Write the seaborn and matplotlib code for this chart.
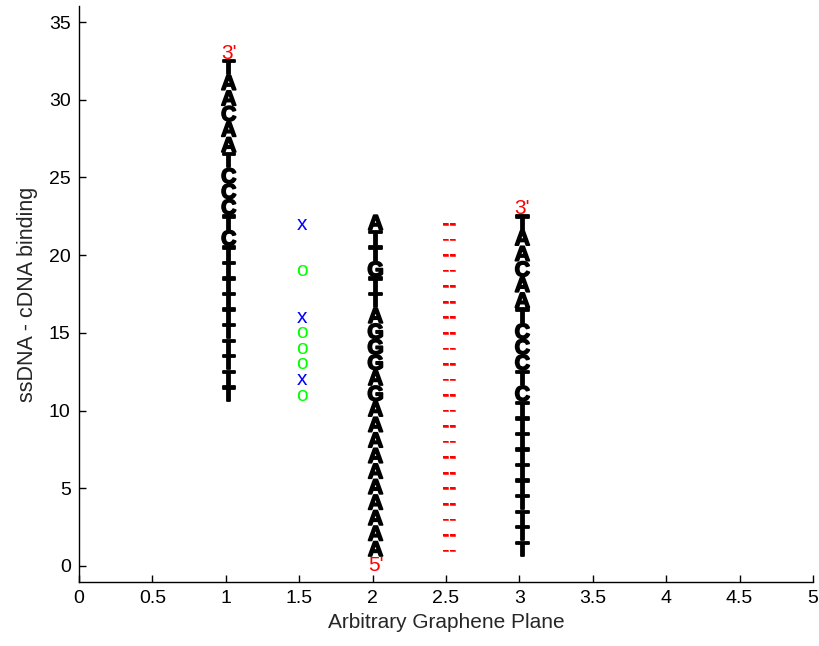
import matplotlib
matplotlib.use("Agg")
import matplotlib.pyplot as plt
import matplotlib.patheffects as pe
import seaborn as sns
from matplotlib.ticker import FormatStrFormatter
from matplotlib.transforms import offset_copy

# strand 1: probe hybridised high on the plane (top -> bottom)
probe_bases = list("TAACAATCCCTCTTTTTTTTTT")
probe_y = [32, 31, 30, 29, 28, 27, 26, 25, 24, 23, 22,
           21, 20, 19, 18, 17, 16, 15, 14, 13, 12, 11]

# strand 2: target (top -> bottom, 5' end at the bottom)
target_bases = list("ATTGTTAGGGAGAAAAAAAAAA")
target_y = [22, 21, 20, 19, 18, 17, 16, 15, 14, 13, 12,
            11, 10, 9, 8, 7, 6, 5, 4, 3, 2, 1]

# strand 3: probe paired with the target
paired_bases = list("TAACAATCCCTCTTTTTTTTTT")
paired_y = [22, 21, 20, 19, 18, 17, 16, 15, 14, 13, 12,
            11, 10, 9, 8, 7, 6, 5, 4, 3, 2, 1]

strand_x = [1, 2, 3]

# strand end labels
end_text = ["3'", "5'", "3'"]
end_x = [1, 2, 3]
end_y = [33, 0, 23]

# hydrogen bonds between strands 2 and 3
bond_x = 2.5
bond_y = [22, 21, 20, 19, 18, 17, 16, 15, 14, 13, 12,
          11, 10, 9, 8, 7, 6, 5, 4, 3, 2, 1]

# comparison of strand 1 with strand 2
cmp_x = 1.5
match_y = [22, 16, 12]            # x : complementary
wobble_y = [19, 15, 14, 13, 11]   # o : G-T

sns.set_style("ticks", {"xtick.direction": "in", "ytick.direction": "in"})
plt.rcParams["font.family"] = ["Liberation Sans", "DejaVu Sans"]

fig = plt.figure(figsize=(8.19, 6.46), dpi=100)
ax = fig.add_axes([79 / 819, 64 / 646, 734 / 819, 576 / 646])
tr = offset_copy(ax.transData, fig=fig, x=3, y=0, units="dots")

heavy = [pe.withStroke(linewidth=1.3, foreground="black")]
for xs, bases, ys in zip(strand_x,
                         [probe_bases, target_bases, paired_bases],
                         [probe_y, target_y, paired_y]):
    for b, y in zip(bases, ys):
        ax.text(xs, y, b, transform=tr, ha="center", va="center",
                fontsize=15, fontweight="bold", color="black",
                path_effects=heavy)

for t, x, y in zip(end_text, end_x, end_y):
    ax.text(x, y, t, transform=tr, ha="center", va="center",
            fontsize=15, color="red")

for y in bond_y:
    ax.text(bond_x, y, "--", transform=tr, ha="center", va="center",
            fontsize=15, color="red",
            path_effects=[pe.withStroke(linewidth=0.4, foreground="red")])

for y in match_y:
    ax.text(cmp_x, y, "x", transform=tr, ha="center", va="center",
            fontsize=15, color="blue")
for y in wobble_y:
    ax.text(cmp_x, y, "o", transform=tr, ha="center", va="center",
            fontsize=15, color=(0, 1, 0))

ax.set_xlim(0, 5)
ax.set_ylim(-1.03, 36.03)
ax.set_xticks([0, 0.5, 1, 1.5, 2, 2.5, 3, 3.5, 4, 4.5, 5])
ax.set_yticks([0, 5, 10, 15, 20, 25, 30, 35])
ax.xaxis.set_major_formatter(FormatStrFormatter("%g"))
ax.tick_params(direction="in", length=5, width=1, labelsize=14,
               colors="black", pad=6)
for s in ["left", "bottom"]:
    ax.spines[s].set_linewidth(1.0)
    ax.spines[s].set_color("black")
sns.despine(ax=ax)
ax.set_xlabel("Arbitrary Graphene Plane", fontsize=15, labelpad=4)
ax.set_ylabel("ssDNA - cDNA binding", fontsize=15.5, labelpad=8)

fig.savefig("out.png", dpi=100)
